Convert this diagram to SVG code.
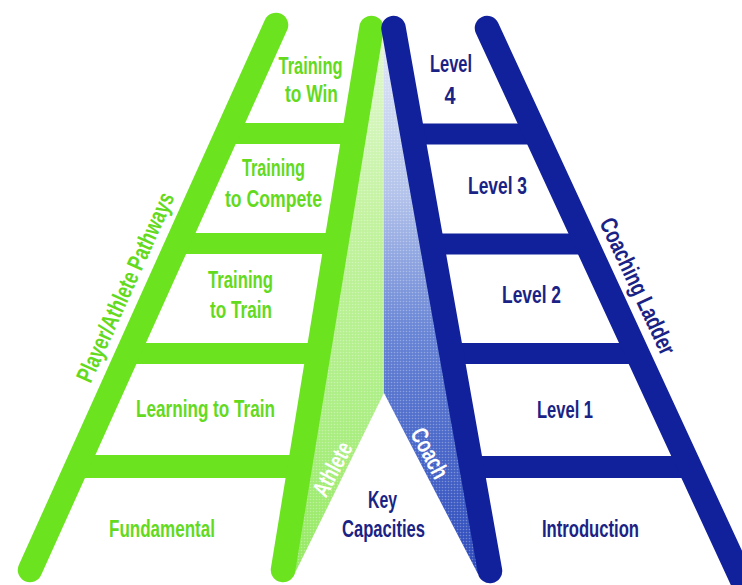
<svg xmlns="http://www.w3.org/2000/svg" width="742" height="585" viewBox="0 0 742 585">
  <defs>
    <linearGradient id="athleteFill" gradientUnits="userSpaceOnUse" x1="0" y1="30" x2="0" y2="580">
      <stop offset="0" stop-color="#e2f8d2"/>
      <stop offset="0.35" stop-color="#c2f29e"/>
      <stop offset="0.7" stop-color="#acee84"/>
      <stop offset="1" stop-color="#94e960"/>
    </linearGradient>
    <linearGradient id="coachFill" gradientUnits="userSpaceOnUse" x1="0" y1="30" x2="0" y2="580">
      <stop offset="0" stop-color="#e3eaf8"/>
      <stop offset="0.3" stop-color="#b2c2ea"/>
      <stop offset="0.55" stop-color="#6784d5"/>
      <stop offset="0.8" stop-color="#4462c6"/>
      <stop offset="1" stop-color="#2c49ba"/>
    </linearGradient>
    <pattern id="halftone" width="3" height="3" patternUnits="userSpaceOnUse">
      <circle cx="1.5" cy="1.5" r="0.8" fill="#ffffff" fill-opacity="0.3"/>
    </pattern>
    <style>
      .rail-g { stroke: #6be31f; stroke-width: 24.5; stroke-linecap: round; fill: none; }
      .rung-g { stroke: #6be31f; stroke-width: 21; fill: none; }
      .rail-b { stroke: #11219c; stroke-width: 24.5; stroke-linecap: round; fill: none; }
      .rung-b { stroke: #11219c; stroke-width: 21; fill: none; }
      text { font-family: "Liberation Sans Narrow", "Liberation Sans", Arial, sans-serif; font-size: 24px; font-weight: bold; text-anchor: middle; }
      .tg { fill: #64da1e; }
      .tb { fill: #1a2385; }
      .tw { fill: #ffffff; }
    </style>
  </defs>

  <rect width="742" height="585" fill="#ffffff"/>

  <!-- shaded capacity bands between the two ladders -->
  <g id="bands">
    <polygon points="371,28 384,34 384,393 293,577 283,570" fill="url(#athleteFill)"/>
    <polygon points="384,34 394,28 490,571 478,574 384,393" fill="url(#coachFill)"/>
    <polygon points="371,28 384,34 384,393 293,577 283,570" fill="url(#halftone)"/>
    <polygon points="384,34 394,28 490,571 478,574 384,393" fill="url(#halftone)"/>
  </g>

  <!-- player / athlete pathway ladder -->
  <g id="athlete-ladder">
    <line class="rung-g" x1="227" y1="133.5" x2="355" y2="133.5"/>
    <line class="rung-g" x1="177" y1="243.5" x2="337" y2="243.5"/>
    <line class="rung-g" x1="127" y1="353.5" x2="319" y2="353.5"/>
    <line class="rung-g" x1="76" y1="466.5" x2="300" y2="466.5" style="stroke-width:23"/>
    <line class="rail-g" x1="276" y1="25" x2="30" y2="570"/>
    <line class="rail-g" x1="371.5" y1="28" x2="283" y2="570"/>
  </g>

  <!-- coaching ladder -->
  <g id="coach-ladder">
    <line class="rung-b" x1="412" y1="134" x2="536" y2="134"/>
    <line class="rung-b" x1="431" y1="244" x2="587" y2="244"/>
    <line class="rung-b" x1="451" y1="353.5" x2="638" y2="353.5"/>
    <line class="rung-b" x1="471" y1="467" x2="690" y2="467" style="stroke-width:22"/>
    <line class="rail-b" x1="393.5" y1="28" x2="490" y2="571"/>
    <line class="rail-b" x1="487" y1="28" x2="742" y2="580"/>
  </g>

  <!-- athlete stage labels -->
  <g id="athlete-stages">
    <text class="tg" x="310.5" y="74" textLength="64" lengthAdjust="spacingAndGlyphs">Training</text>
    <text class="tg" x="311.5" y="102" textLength="53" lengthAdjust="spacingAndGlyphs">to Win</text>
    <text class="tg" x="273.5" y="176" textLength="63" lengthAdjust="spacingAndGlyphs">Training</text>
    <text class="tg" x="273.5" y="207" textLength="97" lengthAdjust="spacingAndGlyphs">to Compete</text>
    <text class="tg" x="240.5" y="288" textLength="65" lengthAdjust="spacingAndGlyphs">Training</text>
    <text class="tg" x="241" y="318" textLength="62" lengthAdjust="spacingAndGlyphs">to Train</text>
    <text class="tg" x="205.5" y="417" textLength="139" lengthAdjust="spacingAndGlyphs">Learning to Train</text>
    <text class="tg" x="162" y="537" textLength="106" lengthAdjust="spacingAndGlyphs">Fundamental</text>
  </g>

  <!-- coaching level labels -->
  <g id="coach-levels">
    <text class="tb" x="451" y="72" textLength="42" lengthAdjust="spacingAndGlyphs">Level</text>
    <text class="tb" x="450" y="104" textLength="11" lengthAdjust="spacingAndGlyphs">4</text>
    <text class="tb" x="497.5" y="194" textLength="59" lengthAdjust="spacingAndGlyphs">Level 3</text>
    <text class="tb" x="531.5" y="303" textLength="59" lengthAdjust="spacingAndGlyphs">Level 2</text>
    <text class="tb" x="565" y="418" textLength="56" lengthAdjust="spacingAndGlyphs">Level 1</text>
    <text class="tb" x="590.5" y="537" textLength="97" lengthAdjust="spacingAndGlyphs">Introduction</text>
  </g>

  <!-- centre labels -->
  <g id="key-capacities">
    <text class="tb" x="382.5" y="508" textLength="29" lengthAdjust="spacingAndGlyphs">Key</text>
    <text class="tb" x="383.5" y="537" textLength="83" lengthAdjust="spacingAndGlyphs">Capacities</text>
  </g>

  <!-- rotated side labels -->
  <g id="side-labels">
    <text class="tg" transform="translate(125,287) rotate(-65.7)" y="8.5" textLength="205" lengthAdjust="spacingAndGlyphs">Player/Athlete Pathways</text>
    <text class="tb" transform="translate(638,286) rotate(65)" y="8.5" textLength="148" lengthAdjust="spacingAndGlyphs">Coaching Ladder</text>
    <text class="tw" transform="translate(332,469) rotate(-62)" y="8.5" textLength="58" lengthAdjust="spacingAndGlyphs">Athlete</text>
    <text class="tw" transform="translate(430,453) rotate(62)" y="8.5" textLength="54" lengthAdjust="spacingAndGlyphs">Coach</text>
  </g>
</svg>
